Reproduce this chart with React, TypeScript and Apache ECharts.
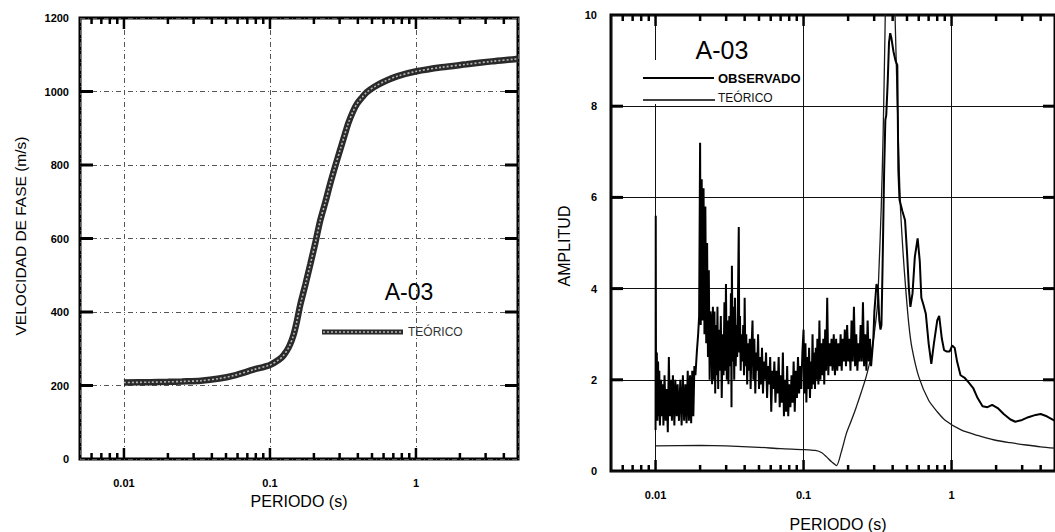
import React, { useEffect, useRef } from 'react';
import * as echarts from 'echarts';

const FONT = '"Liberation Sans", Arial, Helvetica, sans-serif';

// ---- axes ----
const X_MIN = 0.005;
const X_MAX = 5;
const VEL_Y_MIN = 0;
const VEL_Y_MAX = 1200;
const VEL_Y_STEP = 200;
const AMP_Y_MIN = 0;
const AMP_Y_MAX = 10;
const AMP_Y_STEP = 2;

const X_MAJOR_TICKS = [0.01, 0.1, 1];
const X_MINOR_TICKS = [
  0.006, 0.007, 0.008, 0.009,
  0.02, 0.03, 0.04, 0.05, 0.06, 0.07, 0.08, 0.09,
  0.2, 0.3, 0.4, 0.5, 0.6, 0.7, 0.8, 0.9,
  2, 3, 4,
];
const VEL_Y_TICKS = [200, 400, 600, 800, 1000];
const AMP_Y_TICKS = [2, 4, 6, 8];

// ---- left: phase velocity (TEÓRICO) [period s, m/s] ----
const VEL_TEORICO: [number, number][] = [
  [0.01, 208], [0.015, 209], [0.02, 210], [0.025, 211], [0.0336, 213], [0.045, 219],
  [0.0564, 227], [0.077, 243], [0.1, 256], [0.115, 270], [0.124, 282], [0.135, 305],
  [0.145, 337], [0.153, 375], [0.161, 418], [0.175, 475], [0.189, 530], [0.205, 590],
  [0.221, 649], [0.24, 700], [0.259, 750], [0.28, 797], [0.303, 842], [0.325, 882],
  [0.345, 915], [0.37, 945], [0.394, 966], [0.43, 985], [0.46, 998], [0.52, 1013],
  [0.598, 1026], [0.75, 1042], [1.01, 1055], [1.5, 1066], [2.22, 1074], [3.3, 1082],
  [4.75, 1088], [5, 1089],
];

// ---- right: amplitude spectra [period s, amplitude] ----
const AMP_OBSERVADO: [number, number][] = [
  [0.01, 0.9], [0.01003, 5.6], [0.01008, 1.3], [0.0102, 2.6], [0.0103, 1.1], [0.0104, 2.4],
  [0.0105, 1.2], [0.0106, 2.2], [0.0107, 1.0], [0.0109, 2.0], [0.011, 1.2], [0.0112, 1.9],
  [0.0113, 1.0], [0.0115, 2.1], [0.0117, 1.1], [0.0119, 1.8], [0.0121, 0.85], [0.0123, 2.5],
  [0.0125, 1.2], [0.0127, 2.0], [0.0129, 1.1], [0.0131, 2.1], [0.0134, 1.0], [0.0136, 2.0],
  [0.0139, 1.2], [0.0141, 1.9], [0.0144, 1.1], [0.0147, 2.0], [0.015, 1.0], [0.0153, 2.1],
  [0.0156, 1.1], [0.0159, 1.9], [0.0162, 1.05], [0.0165, 2.2], [0.0168, 1.1], [0.0171, 2.1],
  [0.0174, 1.05], [0.0177, 2.2], [0.018, 1.2], [0.0183, 2.3], [0.0186, 2.1], [0.019, 2.6],
  [0.0194, 3.0], [0.0197, 3.4], [0.02, 7.2], [0.0202, 3.2], [0.0205, 6.4], [0.0208, 3.3],
  [0.0211, 6.2], [0.0214, 3.0], [0.0217, 5.8], [0.022, 2.8], [0.0223, 5.0], [0.0226, 2.5],
  [0.0229, 4.4], [0.0232, 2.0], [0.0235, 3.5], [0.0238, 3.3], [0.0241, 1.9], [0.0244, 3.6],
  [0.0247, 2.0], [0.025, 3.5], [0.0253, 1.7], [0.0256, 3.2], [0.0259, 2.1], [0.0262, 3.6],
  [0.0265, 1.8], [0.0268, 3.1], [0.0272, 2.2], [0.0276, 3.4], [0.028, 1.6], [0.0284, 3.0],
  [0.0288, 2.1], [0.0292, 3.7], [0.0296, 2.2], [0.0299, 4.1], [0.0303, 2.0], [0.0307, 3.3],
  [0.0311, 1.9], [0.0315, 3.4], [0.0319, 2.3], [0.0323, 3.9], [0.0326, 1.4], [0.0328, 4.5],
  [0.0332, 2.4], [0.0336, 3.6], [0.034, 2.0], [0.0344, 3.8], [0.0348, 2.3], [0.0352, 3.2],
  [0.0356, 2.5], [0.036, 3.6], [0.0365, 5.35], [0.0368, 2.6], [0.0372, 3.4], [0.0376, 2.2],
  [0.0381, 3.0], [0.0386, 2.4], [0.0391, 3.2], [0.0396, 2.1], [0.04, 3.8], [0.0405, 2.3],
  [0.041, 3.0], [0.0416, 1.9], [0.0421, 2.8], [0.0427, 2.2], [0.0433, 2.9], [0.0439, 1.8],
  [0.0445, 2.7], [0.0452, 3.3], [0.0458, 2.0], [0.0465, 2.9], [0.0472, 1.7], [0.0479, 2.6],
  [0.0486, 2.2], [0.0493, 3.0], [0.05, 1.8], [0.0508, 2.5], [0.0516, 1.9], [0.0524, 2.7],
  [0.0532, 1.7], [0.054, 2.4], [0.0549, 2.0], [0.0558, 2.6], [0.0567, 1.6], [0.0576, 2.3],
  [0.0585, 1.9], [0.0595, 2.5], [0.0605, 1.3], [0.0615, 2.2], [0.0625, 1.8], [0.0635, 2.4],
  [0.0646, 1.5], [0.0657, 2.2], [0.0668, 1.7], [0.0679, 2.5], [0.069, 1.4], [0.0701, 2.1],
  [0.0713, 1.5], [0.0725, 2.6], [0.0737, 1.2], [0.0749, 2.0], [0.0762, 1.3], [0.0775, 2.3],
  [0.0788, 1.2], [0.0801, 1.9], [0.0815, 1.4], [0.0829, 2.1], [0.0843, 1.5], [0.0857, 2.4],
  [0.0872, 1.3], [0.0887, 2.2], [0.0902, 1.6], [0.0917, 2.5], [0.0933, 1.7], [0.0949, 2.3],
  [0.0965, 1.8], [0.0982, 2.6], [0.1, 3.1], [0.1015, 1.7], [0.103, 2.8], [0.1045, 1.5],
  [0.106, 2.5], [0.1075, 1.8], [0.109, 2.7], [0.1105, 1.6], [0.112, 2.4], [0.1135, 1.8],
  [0.115, 3.0], [0.1165, 1.9], [0.118, 2.6], [0.1195, 1.8], [0.121, 2.7], [0.1225, 2.0],
  [0.124, 2.9], [0.126, 1.9], [0.128, 3.3], [0.13, 2.0], [0.132, 2.8], [0.134, 2.1],
  [0.136, 2.9], [0.138, 1.9], [0.14, 3.1], [0.142, 2.2], [0.1445, 3.8], [0.147, 2.1],
  [0.1495, 2.8], [0.152, 2.3], [0.1545, 2.9], [0.157, 2.2], [0.16, 3.0], [0.163, 2.1],
  [0.166, 2.9], [0.169, 2.2], [0.172, 2.8], [0.175, 2.3], [0.178, 3.0], [0.181, 2.2],
  [0.184, 2.9], [0.187, 2.4], [0.19, 3.1], [0.1935, 2.3], [0.197, 3.2], [0.2005, 2.4],
  [0.204, 2.9], [0.2075, 2.2], [0.211, 3.3], [0.215, 2.4], [0.219, 3.6], [0.223, 2.3],
  [0.227, 3.0], [0.231, 2.2], [0.235, 2.8], [0.239, 2.4], [0.243, 3.2], [0.2475, 2.4],
  [0.252, 3.7], [0.2565, 2.3], [0.261, 3.0], [0.266, 2.2], [0.271, 3.3], [0.276, 2.4],
  [0.281, 2.9], [0.286, 2.3], [0.291, 2.6], [0.296, 2.9], [0.301, 3.5], [0.306, 3.8],
  [0.311, 4.1], [0.318, 4.0], [0.325, 3.3], [0.331, 3.1], [0.336, 3.2], [0.342, 4.5],
  [0.35, 6.5], [0.357, 7.7], [0.362, 7.8], [0.37, 8.5], [0.378, 9.4], [0.385, 9.6],
  [0.392, 9.5], [0.405, 9.2], [0.418, 9.0], [0.43, 8.9], [0.437, 6.6], [0.445, 5.95],
  [0.465, 5.7], [0.485, 5.5], [0.5, 4.8], [0.515, 4.0], [0.527, 3.6], [0.545, 3.9],
  [0.565, 4.7], [0.59, 5.1], [0.61, 4.6], [0.625, 3.8], [0.645, 3.65], [0.67, 3.45],
  [0.7, 2.8], [0.73, 2.35], [0.76, 2.8], [0.8, 3.3], [0.825, 3.4], [0.86, 2.9],
  [0.89, 2.65], [0.93, 2.62], [0.97, 2.62], [1.01, 2.75], [1.05, 2.7], [1.09, 2.4],
  [1.15, 2.1], [1.22, 2.05], [1.3, 1.95], [1.4, 1.82], [1.5, 1.6], [1.62, 1.42],
  [1.75, 1.4], [1.88, 1.45], [2.05, 1.38], [2.25, 1.25], [2.5, 1.13], [2.7, 1.08],
  [3.0, 1.12], [3.3, 1.18], [3.7, 1.23], [4.0, 1.25], [4.4, 1.2], [5.0, 1.1],
];

const AMP_TEORICO: [number, number][] = [
  [0.01, 0.55], [0.02, 0.56], [0.03, 0.55], [0.05, 0.52], [0.07, 0.49], [0.1, 0.47],
  [0.12, 0.45], [0.133, 0.4], [0.143, 0.31], [0.155, 0.2], [0.167, 0.12], [0.18, 0.42],
  [0.195, 0.83], [0.21, 1.1], [0.227, 1.4], [0.245, 1.72], [0.265, 2.07], [0.285, 2.5],
  [0.3, 3.0], [0.315, 3.6], [0.324, 4.5], [0.335, 5.8], [0.345, 7.4], [0.355, 9.6],
  [0.365, 12], [0.38, 13], [0.4, 12], [0.415, 10.0], [0.43, 8.1], [0.45, 5.9],
  [0.47, 4.8], [0.49, 4.0], [0.515, 3.2], [0.54, 2.7], [0.6, 2.07], [0.7, 1.55],
  [0.8, 1.3], [0.9, 1.12], [1.16, 0.9], [1.5, 0.78], [1.95, 0.68], [2.5, 0.62],
  [3.2, 0.57], [4.0, 0.53], [5.0, 0.5],
];

const LEFT_GRID = { left: 80, top: 18, width: 438, height: 441 };
const RIGHT_GRID = { left: 611, top: 15, width: 450, height: 456 };

function xTickSeries(gridIdx: number, values: number[], len: number, yMin: number, yMax: number) {
  return {
    type: 'custom',
    xAxisIndex: gridIdx,
    yAxisIndex: gridIdx,
    silent: true,
    z: 4,
    data: values.map((v) => [v, yMin]),
    renderItem: (_p: any, api: any) => {
      const x = api.value(0);
      const b = api.coord([x, yMin]);
      const t = api.coord([x, yMax]);
      const st = { stroke: '#000', lineWidth: 2.5 };
      return {
        type: 'group',
        children: [
          { type: 'line', shape: { x1: b[0], y1: b[1], x2: b[0], y2: b[1] - len }, style: st },
          { type: 'line', shape: { x1: t[0], y1: t[1], x2: t[0], y2: t[1] + len }, style: st },
        ],
      };
    },
  };
}

function yTickSeries(gridIdx: number, values: number[], len: number) {
  return {
    type: 'custom',
    xAxisIndex: gridIdx,
    yAxisIndex: gridIdx,
    silent: true,
    z: 4,
    data: values.map((v) => [X_MIN, v]),
    renderItem: (_p: any, api: any) => {
      const y = api.value(1);
      const l = api.coord([X_MIN, y]);
      const r = api.coord([X_MAX, y]);
      const st = { stroke: '#000', lineWidth: 3 };
      return {
        type: 'group',
        children: [
          { type: 'line', shape: { x1: l[0], y1: l[1], x2: l[0] + len, y2: l[1] }, style: st },
          { type: 'line', shape: { x1: r[0], y1: r[1], x2: r[0] - len, y2: r[1] }, style: st },
        ],
      };
    },
  };
}

const tickLabel = {
  color: '#000',
  fontFamily: FONT,
  fontWeight: 'bold' as const,
  fontSize: 11,
  formatter: (v: number) => String(v),
};

function buildOption() {
  const dashDot = [5, 3, 1, 3];
  return {
    animation: false,
    backgroundColor: '#fff',
    grid: [
      { ...LEFT_GRID, show: true, borderWidth: 3, borderColor: '#000', containLabel: false },
      { ...RIGHT_GRID, show: true, borderWidth: 3, borderColor: '#000', containLabel: false },
    ],
    xAxis: [
      {
        type: 'log', logBase: 10, gridIndex: 0, min: X_MIN, max: X_MAX,
        axisLine: { show: false }, axisTick: { show: false },
        axisLabel: { ...tickLabel, margin: 18, showMinLabel: false, showMaxLabel: false },
        splitLine: { show: true, lineStyle: { color: '#555', width: 1, type: dashDot } },
      },
      {
        type: 'log', logBase: 10, gridIndex: 1, min: X_MIN, max: X_MAX,
        axisLine: { show: false }, axisTick: { show: false },
        axisLabel: { ...tickLabel, margin: 18, showMinLabel: false, showMaxLabel: false },
        splitLine: { show: true, lineStyle: { color: '#111', width: 1, type: 'solid' } },
      },
    ],
    yAxis: [
      {
        type: 'value', gridIndex: 0, min: VEL_Y_MIN, max: VEL_Y_MAX, interval: VEL_Y_STEP,
        axisLine: { show: false }, axisTick: { show: false },
        axisLabel: { ...tickLabel, margin: 11 },
        splitLine: { show: true, lineStyle: { color: '#555', width: 1, type: dashDot } },
      },
      {
        type: 'value', gridIndex: 1, min: AMP_Y_MIN, max: AMP_Y_MAX, interval: AMP_Y_STEP,
        axisLine: { show: false }, axisTick: { show: false },
        axisLabel: { ...tickLabel, margin: 14 },
        splitLine: { show: true, lineStyle: { color: '#111', width: 1, type: 'solid' } },
      },
    ],
    series: [
      {
        name: 'TEÓRICO', type: 'line', xAxisIndex: 0, yAxisIndex: 0, data: VEL_TEORICO,
        showSymbol: false, smooth: 0.3, z: 3,
        lineStyle: { color: '#2a2a2a', width: 6.5 },
      },
      {
        name: 'TEÓRICO (trama)', type: 'line', xAxisIndex: 0, yAxisIndex: 0, data: VEL_TEORICO,
        showSymbol: false, smooth: 0.3, z: 3,
        lineStyle: { color: '#b5b5b5', width: 1.6, type: [2, 2] },
      },
      {
        name: 'TEÓRICO', type: 'line', xAxisIndex: 1, yAxisIndex: 1, data: AMP_TEORICO,
        showSymbol: false, smooth: 0.25, z: 3,
        lineStyle: { color: '#1a1a1a', width: 1.3 },
      },
      {
        name: 'OBSERVADO', type: 'line', xAxisIndex: 1, yAxisIndex: 1, data: AMP_OBSERVADO,
        showSymbol: false, z: 3,
        lineStyle: { color: '#000', width: 2 },
      },
      xTickSeries(0, X_MINOR_TICKS, 6, VEL_Y_MIN, VEL_Y_MAX),
      xTickSeries(0, X_MAJOR_TICKS, 11, VEL_Y_MIN, VEL_Y_MAX),
      yTickSeries(0, VEL_Y_TICKS, 13),
      xTickSeries(1, X_MINOR_TICKS, 6, AMP_Y_MIN, AMP_Y_MAX),
      xTickSeries(1, X_MAJOR_TICKS, 11, AMP_Y_MIN, AMP_Y_MAX),
      yTickSeries(1, AMP_Y_TICKS, 12),
    ],
    graphic: [
      // axis titles
      { type: 'text', x: 20, y: 236, rotation: Math.PI / 2, z: 10,
        style: { text: 'VELOCIDAD DE FASE (m/s)', fontFamily: FONT, fontSize: 15.5, fill: '#000', align: 'center', verticalAlign: 'middle' } },
      { type: 'text', x: 299, y: 501, z: 10,
        style: { text: 'PERIODO (s)', fontFamily: FONT, fontSize: 16, fill: '#000', align: 'center', verticalAlign: 'middle' } },
      { type: 'text', x: 564, y: 246, rotation: Math.PI / 2, z: 10,
        style: { text: 'AMPLITUD', fontFamily: FONT, fontSize: 16, fill: '#000', align: 'center', verticalAlign: 'middle' } },
      { type: 'text', x: 838, y: 524, z: 10,
        style: { text: 'PERIODO (s)', fontFamily: FONT, fontSize: 16, fill: '#000', align: 'center', verticalAlign: 'middle' } },
      // left legend
      { type: 'text', x: 409, y: 292, z: 10,
        style: { text: 'A-03', fontFamily: FONT, fontSize: 23, fill: '#000', align: 'center', verticalAlign: 'middle' } },
      { type: 'rect', z: 10, shape: { x: 322, y: 329.5, width: 81, height: 5 }, style: { fill: '#2a2a2a' } },
      { type: 'line', z: 11, shape: { x1: 323, y1: 332, x2: 402, y2: 332 }, style: { stroke: '#b5b5b5', lineWidth: 1.6, lineDash: [2, 2] } },
      { type: 'text', x: 408, y: 332, z: 10,
        style: { text: 'TEÓRICO', fontFamily: FONT, fontSize: 12, fill: '#333', align: 'left', verticalAlign: 'middle' } },
      // right legend
      { type: 'rect', z: 9, shape: { x: 640, y: 60, width: 152, height: 44 }, style: { fill: '#fff' } },
      { type: 'text', x: 722, y: 50, z: 10,
        style: { text: 'A-03', fontFamily: FONT, fontSize: 25, fill: '#000', align: 'center', verticalAlign: 'middle' } },
      { type: 'line', z: 10, shape: { x1: 643, y1: 78, x2: 714, y2: 78 }, style: { stroke: '#000', lineWidth: 2 } },
      { type: 'text', x: 718, y: 78, z: 10,
        style: { text: 'OBSERVADO', fontFamily: FONT, fontSize: 13, fontWeight: 'bold', fill: '#000', align: 'left', verticalAlign: 'middle' } },
      { type: 'line', z: 10, shape: { x1: 643, y1: 100, x2: 715, y2: 100 }, style: { stroke: '#000', lineWidth: 1.5 } },
      { type: 'text', x: 718, y: 98, z: 10,
        style: { text: 'TEÓRICO', fontFamily: FONT, fontSize: 12, fill: '#111', align: 'left', verticalAlign: 'middle' } },
    ],
  };
}

export default function App() {
  const ref = useRef<HTMLDivElement>(null);
  useEffect(() => {
    if (!ref.current) return;
    const chart = echarts.init(ref.current, undefined, { renderer: 'svg' });
    chart.setOption(buildOption() as any);
    return () => chart.dispose();
  }, []);
  return (
    <div
      ref={ref}
      style={{ position: 'fixed', left: 0, top: 0, width: 1055, height: 532, background: '#fff' }}
    />
  );
}
